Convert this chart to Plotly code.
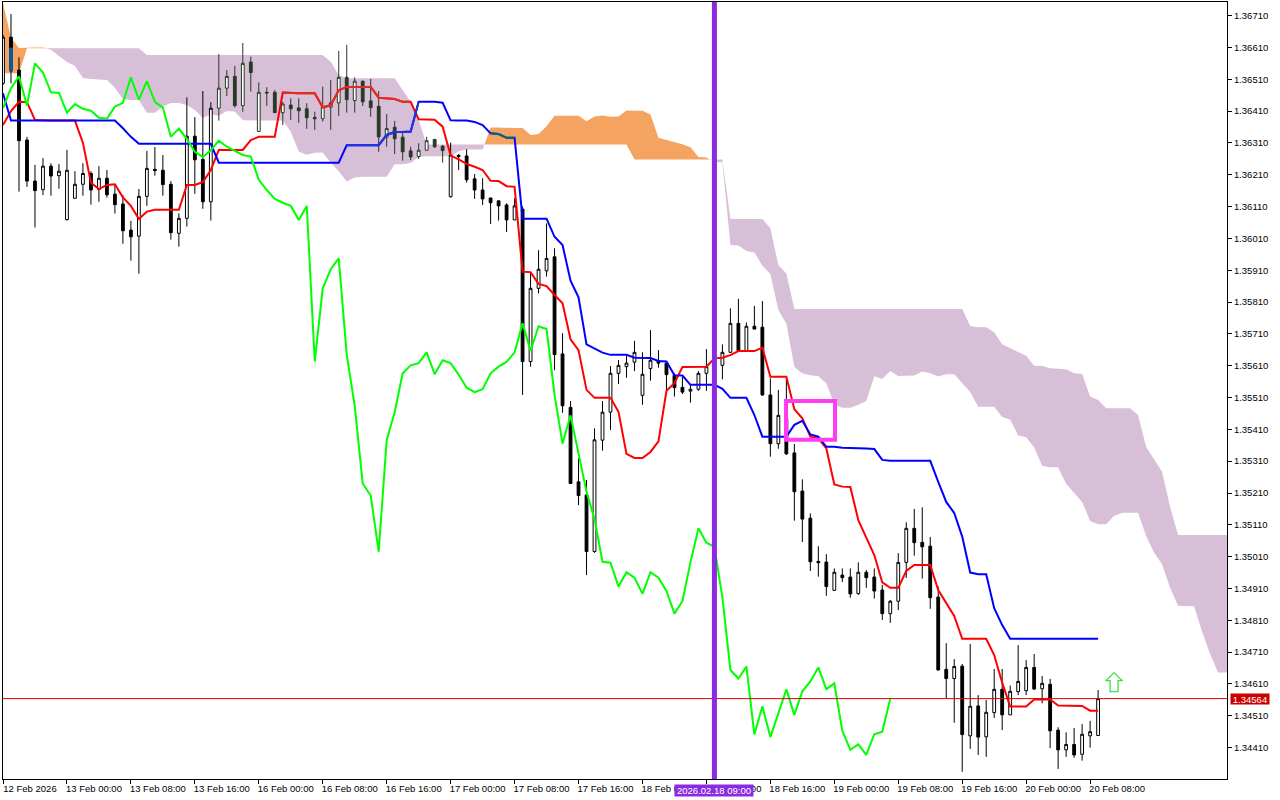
import numpy as np
import plotly.graph_objects as go

# All prices are in broker points (price x 100000).
OPEN = [136497,136642,136539,136319,136190,136163,136237,136207,136069,136136,
136180,136214,136164,136199,136149,136118,136036,136017,136142,136227,
136224,136180,136026,136073,136331,136258,136125,136419,136482,136519,
136427,136564,136346,136469,136469,136405,136429,136420,136417,136390,
136386,136422,136436,136516,136443,136504,136442,136425,136328,136359,
136328,136285,136267,136287,136321,136300,136141,136271,136269,136197,
136162,136137,136128,136115,136068,136102,135623,135853,135908,135952,
135647,135479,135245,135204,135026,135376,135464,135586,135607,135621,
135517,135601,135626,135618,135580,135542,135530,135536,135586,135606,
135611,135652,135743,135657,135734,135731,135518,135365,135443,135336,
135216,135131,134995,134993,134904,134952,134946,134894,134961,134946,
134905,134831,134870,134992,135099,135055,135043,134883,134656,134627,
134666,134447,134541,134444,134520,134593,134513,134586,134589,134662,
134595,134609,134465,134403,134420,134389,134447,134448]
HIGH = [136649,136715,136579,136329,136241,136262,136246,136244,136288,136221,
136246,136221,136237,136225,136178,136146,136065,136165,136285,136297,
136272,136190,136089,136453,136391,136473,136438,136589,136539,136552,
136624,136581,136500,136485,136476,136439,136450,136450,136435,136408,
136487,136508,136599,136618,136516,136505,136511,136473,136401,136379,
136348,136298,136309,136329,136322,136303,136311,136275,136290,136212,
136199,136137,136128,136120,136136,136110,135901,135973,136057,135979,
135712,135499,135319,135251,135413,135499,135609,135628,135641,135688,
135652,135722,135659,135623,135586,135575,135549,135593,135662,135659,
135677,135790,135820,135746,135798,135813,135570,135534,135571,135364,
135253,135146,135043,135018,134973,134973,134973,134992,134968,134973,
134921,134874,135021,135118,135160,135165,135072,134916,134738,134688,
134673,134736,134575,134560,134657,134657,134605,134732,134685,134704,
134635,134626,134474,134458,134472,134484,134494,134591]
LOW = [136492,136497,136157,136172,136044,136146,136144,136166,136066,136136,
136144,136116,136125,136138,136088,135993,135940,135899,136112,136207,
136144,136006,135984,136047,136150,136103,136066,136380,136457,136421,
136408,136471,136346,136426,136404,136366,136382,136373,136354,136351,
136377,136351,136395,136405,136405,136426,136392,136282,136298,136275,
136254,136256,136259,136287,136294,136248,136138,136225,136185,136134,
136115,136055,136066,136030,136068,135518,135607,135837,135890,135596,
135462,135238,135172,134952,135022,135343,135408,135552,135572,135593,
135487,135563,135604,135534,135513,135521,135494,135531,135531,135593,
135567,135652,135656,135656,135725,135515,135324,135349,135330,135123,
135056,134965,134947,134887,134903,134930,134881,134890,134912,134878,
134811,134802,134842,134943,135013,134941,134846,134652,134565,134488,
134334,134406,134387,134381,134503,134465,134513,134575,134575,134591,
134549,134408,134343,134381,134378,134369,134410,134448]
CLOSE = [136642,136536,136317,136190,136160,136237,136206,136221,136224,136180,
136214,136162,136199,136147,136116,136034,136015,136142,136230,136223,
136179,136028,136073,136331,136257,136125,136419,136482,136519,136427,
136560,136531,136469,136467,136405,136432,136417,136411,136389,136386,
136424,136436,136516,136446,136504,136439,136421,136329,136355,136323,
136282,136266,136287,136317,136298,136286,136272,136267,136194,136162,
136134,136122,136112,136068,136112,135623,135853,135913,135947,135645,
135484,135240,135202,135026,135377,135464,135586,135611,135618,135652,
135583,135627,135618,135582,135541,135527,135536,135586,135607,135622,
135652,135743,135657,135734,135725,135518,135365,135454,135333,135214,
135128,134994,134991,134916,134961,134944,134893,134961,134944,134902,
134831,134870,134992,135099,135054,135041,134881,134654,134627,134665,
134451,134540,134443,134521,134593,134513,134587,134618,134662,134594,
134612,134463,134403,134420,134387,134452,134460,134564]
TENKAN = [136366,136410,136439,136438,136382,136380,136380,136380,136380,136380,
136310,136185,136165,136178,136180,136139,136112,136071,136094,136100,
136100,136100,136100,136178,136178,136187,136225,136288,136288,136288,
136288,136319,136329,136329,136329,136468,136466,136466,136466,136466,
136422,136428,136475,136486,136486,136486,136486,136452,136451,136448,
136439,136439,136384,136383,136383,136361,136270,136258,136244,136235,
136225,136191,136190,136174,136172,135905,135904,135867,135860,135832,
135806,135693,135659,135534,135509,135509,135509,135465,135333,135320,
135320,135339,135372,135531,135555,135606,135606,135606,135607,135633,
135635,135643,135656,135656,135656,135667,135575,135575,135575,135473,
135445,135387,135382,135350,135237,135230,135229,135125,135068,135015,
134929,134912,134912,134965,134984,134984,134984,134905,134863,134824,
134752,134752,134752,134752,134701,134614,134539,134539,134539,134561,
134561,134561,134542,134541,134541,134541,134526,134526]
KIJUN = [136466,136380,136380,136380,136380,136380,136380,136380,136380,136380,
136380,136380,136380,136380,136380,136356,136329,136307,136307,136307,
136307,136307,136307,136307,136307,136307,136307,136248,136248,136248,
136248,136248,136248,136248,136248,136248,136248,136248,136248,136248,
136248,136248,136248,136303,136303,136303,136303,136303,136335,136344,
136344,136346,136439,136439,136439,136436,136381,136380,136380,136376,
136366,136340,136338,136326,136326,136072,136072,136072,136072,136015,
135989,135877,135825,135677,135663,135651,135644,135644,135644,135635,
135635,135634,135625,135623,135580,135579,135550,135550,135550,135550,
135537,135509,135509,135509,135455,135387,135387,135387,135387,135424,
135437,135394,135387,135355,135355,135352,135352,135352,135350,135348,
135314,135311,135311,135311,135311,135311,135311,135245,135182,135147,
135073,134960,134955,134955,134848,134795,134752,134752,134752,134752,
134752,134752,134752,134752,134752,134752,134752,134752]
SENKOU_A = [136749,136640,136608,136610,136610,136610,136603,136583,136564,136552,
136514,136511,136509,136508,136483,136448,136445,136445,136405,136405,
136424,136435,136435,136429,136413,136388,136400,136395,136410,136409,
136381,136380,136380,136380,136380,136380,136345,136283,136273,136279,
136280,136248,136221,136189,136201,136204,136204,136204,136204,136243,
136243,136247,136266,136268,136268,136268,136268,136284,136289,136289,
136289,136358,136357,136357,136357,136357,136335,136338,136362,136395,
136395,136395,136395,136378,136393,136396,136392,136393,136412,136411,
136411,136399,136326,136319,136312,136306,136296,136266,136264,136250,
136249,135989,135988,135970,135966,135924,135898,135785,135742,135606,
135586,135580,135577,135555,135489,135478,135478,135487,135499,135577,
135568,135593,135578,135578,135579,135592,135586,135576,135583,135583,
135556,135527,135481,135481,135481,135449,135441,135391,135385,135353,
135296,135291,135291,135239,135209,135182,135122,135112,135112,135138,
135148,135148,135148,135075,135023,134986,134913,134856,134854,134854,
134775,134705,134646,134646,134646]
SENKOU_B = [136529,136529,136529,136607,136607,136607,136607,136607,136607,136607,
136607,136607,136607,136607,136607,136607,136607,136607,136586,136586,
136586,136586,136586,136586,136586,136586,136586,136586,136586,136586,
136586,136586,136586,136586,136586,136586,136586,136586,136586,136586,
136586,136565,136523,136513,136513,136513,136513,136513,136513,136513,
136476,136439,136382,136305,136305,136305,136305,136305,136305,136305,
136305,136305,136305,136305,136305,136305,136305,136305,136305,136305,
136305,136305,136305,136305,136305,136305,136305,136305,136305,136258,
136258,136258,136258,136258,136258,136258,136258,136258,136258,136258,
136258,136071,136071,136071,136071,136071,136042,135926,135900,135788,
135788,135788,135788,135788,135788,135788,135788,135788,135788,135788,
135788,135788,135788,135788,135788,135788,135788,135788,135788,135788,
135788,135735,135731,135731,135715,135677,135665,135654,135641,135610,
135609,135602,135600,135599,135586,135584,135513,135502,135476,135476,
135476,135476,135455,135355,135316,135277,135167,135078,135078,135078,
135078,135078,135078,135078,135078]
CHIKOU = CLOSE[26:]   # the lagging span is the close, 26 bars back

TICK_BARS = [0,8,16,24,32,40,48,56,64,72,80,88,96,104,112,120,128,136]
TICK_LABELS = ["12 Feb 2026","13 Feb 00:00","13 Feb 08:00","13 Feb 16:00","16 Feb 00:00",
               "16 Feb 08:00","16 Feb 16:00","17 Feb 00:00","17 Feb 08:00","17 Feb 16:00",
               "18 Feb 00:00","18 Feb 08:00","18 Feb 16:00","19 Feb 00:00","19 Feb 08:00",
               "19 Feb 16:00","20 Feb 00:00","20 Feb 08:00"]
PRICE_TICKS = [134410,134510,134610,134710,134810,134910,135010,135110,135210,135310,135410,135510,
               135610,135710,135810,135910,136010,136110,136210,136310,136410,136510,136610,136710]
BID = 134564
CURSOR_BAR = 89
CURSOR_LABEL = "2026.02.18 09:00"
ZONE = dict(x0=97.96, x1=104.09, y0=135499, y1=135377)
ARROW_BAR, ARROW_BASE = 139, 134586
IN_CLOUD_BARS = range(27, 56)
X_RANGE = [0, 153.125]
Y_RANGE = [134311.4, 136752.7]

FONT = "Liberation Sans"
p = lambda seq: [v / 100000 for v in seq]
bars = list(range(len(OPEN)))

# ---- cloud: split at the crossings of the two spans
xs, a_s, b_s = [], [], []
for i in range(len(SENKOU_A)):
    xs.append(i); a_s.append(SENKOU_A[i]); b_s.append(SENKOU_B[i])
    if i + 1 < len(SENKOU_A):
        d0, d1 = SENKOU_A[i] - SENKOU_B[i], SENKOU_A[i + 1] - SENKOU_B[i + 1]
        if d0 * d1 < 0:
            t = d0 / (d0 - d1)
            v = SENKOU_A[i] + t * (SENKOU_A[i + 1] - SENKOU_A[i])
            xs.append(i + t); a_s.append(v); b_s.append(v)
a_s, b_s = np.array(a_s), np.array(b_s)

fig = go.Figure()
def band(lo, hi, colour):
    fig.add_trace(go.Scatter(x=xs, y=p(lo), mode="lines", line=dict(width=0, color=colour), hoverinfo="skip", showlegend=False))
    fig.add_trace(go.Scatter(x=xs, y=p(hi), mode="lines", line=dict(width=0, color=colour), fill="tonexty",
                             fillcolor=colour, hoverinfo="skip", showlegend=False))
band(a_s, np.maximum(a_s, b_s), "#D8BFD8")   # span B above span A
band(b_s, np.maximum(a_s, b_s), "#F4A460")   # span A above span B

# ---- candles, on an overlaying pair of axes so that they sit above the cloud
def candles(idx, line_up, line_dn, fill_up="#FFFFFF", fill_dn=None):
    fig.add_trace(go.Candlestick(
        x=list(idx), open=p([OPEN[i] for i in idx]), high=p([HIGH[i] for i in idx]),
        low=p([LOW[i] for i in idx]), close=p([CLOSE[i] for i in idx]),
        xaxis="x2", yaxis="y2", whiskerwidth=0, hoverinfo="skip", showlegend=False,
        increasing=dict(line=dict(color=line_up, width=1), fillcolor=fill_up),
        decreasing=dict(line=dict(color=line_dn, width=1), fillcolor=fill_dn or line_dn)))
candles([i for i in bars if i not in IN_CLOUD_BARS], "#000000", "#000000")
candles(list(IN_CLOUD_BARS), "#263A26", "#263A26")

# the part of the second bar that lies on the orange cloud
fig.add_trace(go.Candlestick(
    x=[1], open=p([136608]), high=p([136608]), low=p([136536]), close=p([136536]),
    xaxis="x2", yaxis="y2", whiskerwidth=0, hoverinfo="skip", showlegend=False,
    decreasing=dict(line=dict(color="#0A5AA0", width=1), fillcolor="#0A5AA0"),
    increasing=dict(line=dict(color="#0A5AA0", width=1), fillcolor="#0A5AA0")))

def line(x, y, colour, w=2):
    fig.add_trace(go.Scatter(x=list(x), y=p(y), mode="lines", xaxis="x2", yaxis="y2",
                             line=dict(color=colour, width=w), hoverinfo="skip", showlegend=False))
line(bars, TENKAN, "#FF0000")
line(range(35, 52), TENKAN[35:52], "#E02C22")
line(bars, KIJUN, "#0000FF")
line(range(43, 53), KIJUN[43:53], "#2233E0")
line(range(61, 65), KIJUN[61:65], "#006A78")
line(range(len(CHIKOU)), CHIKOU, "#00FF00")

axis_common = dict(showgrid=False, zeroline=False, ticks="outside", ticklen=4, tickwidth=1, tickcolor="#000000",
                   showline=True, linecolor="#000000", linewidth=1, mirror=True,
                   tickfont=dict(family=FONT, size=9.5, color="#000000"))
fig.update_layout(
    width=1280, height=800, autosize=False, paper_bgcolor="#FFFFFF", plot_bgcolor="#FFFFFF",
    margin=dict(l=2.5, r=52.5, t=2, b=21, pad=0), showlegend=False, boxgap=0.5, hovermode=False,
    xaxis=dict(range=X_RANGE, tickmode="array", tickvals=TICK_BARS, ticktext=TICK_LABELS,
               ticklabelshift=27, ticklabelstandoff=-3, rangeslider=dict(visible=False), **axis_common),
    yaxis=dict(range=p(Y_RANGE), side="right", tickmode="array", tickvals=p(PRICE_TICKS),
               ticktext=[f"{v/100000:.5f}" for v in PRICE_TICKS], **axis_common),
    xaxis2=dict(range=X_RANGE, overlaying="x", visible=False, rangeslider=dict(visible=False)),
    yaxis2=dict(range=p(Y_RANGE), overlaying="y", visible=False),
)

# ---- overlays
fig.add_shape(type="line", xref="paper", yref="y", x0=0, x1=1, y0=BID/100000, y1=BID/100000,
              line=dict(color="#E00000", width=1), layer="above")
fig.add_shape(type="line", xref="x", yref="paper", x0=CURSOR_BAR, x1=CURSOR_BAR, y0=0, y1=1,
              line=dict(color="#8A2BE2", width=5), layer="above")
fig.add_shape(type="rect", xref="x", yref="y", x0=ZONE["x0"], x1=ZONE["x1"], y0=ZONE["y0"]/100000, y1=ZONE["y1"]/100000,
              line=dict(color="#FF3CF2", width=4), fillcolor="rgba(0,0,0,0)", layer="above")
fig.add_shape(type="path", xref="x", yref="y", xsizemode="pixel", ysizemode="pixel",
              xanchor=ARROW_BAR, yanchor=ARROW_BASE/100000,
              path="M -4 0 L 4 0 L 4 11 L 8 11 L 0 19 L -8 11 L -4 11 Z",
              line=dict(color="#44DD44", width=1.3), fillcolor="#FFFFFF", layer="above")

fig.add_annotation(xref="paper", yref="y", x=1, y=BID/100000, xshift=2.5, xanchor="left", yanchor="middle",
                   text=f"{BID/100000:.5f}", showarrow=False, bgcolor="#CC0000", borderpad=0,
                   width=38, height=10, font=dict(family=FONT, size=9.5, color="#FFFFFF"))
fig.add_annotation(xref="x", yref="paper", x=CURSOR_BAR, y=0, yshift=-5, xanchor="center", yanchor="top",
                   text=CURSOR_LABEL, showarrow=False, bgcolor="#8A2BE2", borderpad=0,
                   width=78, height=11, font=dict(family=FONT, size=9.5, color="#FFFFFF"))

fig.write_html("out.html", config={"displayModeBar": False, "responsive": False},
               post_script="document.body.style.margin='0';document.documentElement.style.overflow='hidden';")
